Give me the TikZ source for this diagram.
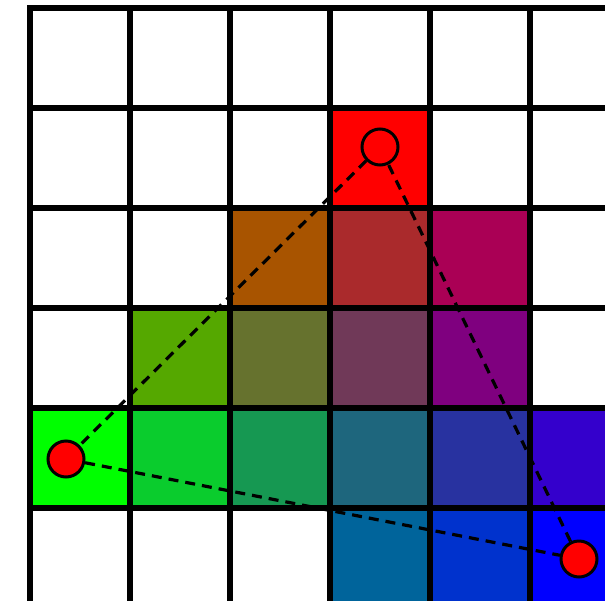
\documentclass[tikz,border=0pt]{standalone}
\usetikzlibrary{positioning}
\begin{document}
\begin{tikzpicture}[
  x=1pt, y=-1pt,
  gridline/.style={line width=5.5pt, draw=black, line cap=rect},
  edge/.style={draw=black, line width=3.2pt, dash pattern=on 10pt off 7pt},
  vertex/.style={circle, draw=black, line width=3pt, fill=red,
                 minimum size=36pt, inner sep=0pt},
]
\useasboundingbox (0,0) rectangle (605,600);
\clip (0,0) rectangle (605,600);

% coloured cells: column/row/red/green/blue
\foreach \c/\r/\rr/\gg/\bb in {
    3/1/255/0/0,
    2/2/168/84/0, 3/2/170/42/44, 4/2/170/0/85,
    1/3/85/168/0, 2/3/102/114/46, 3/3/112/57/88, 4/3/127/0/127,
    0/4/0/255/0, 1/4/10/204/45, 2/4/22/152/82, 3/4/30/102/125, 4/4/40/50/160, 5/4/52/0/204,
    3/5/0/100/155, 4/5/0/50/205, 5/5/0/0/255}
  \fill[fill={rgb,255:red,\rr;green,\gg;blue,\bb}] ({30+100*\c},{8+100*\r}) rectangle ++(100,100);

\foreach \i in {0,...,6} {
  \draw[gridline] ({30+100*\i},8) -- ({30+100*\i},700);
  \draw[gridline] (30,{8+100*\i}) -- (700,{8+100*\i});
}

\node[vertex] (red)   at (380,147) {};
\node[vertex] (green) at (66,459)  {};
\node[vertex] (blue)  at (579,559) {};

\draw[edge] (red) -- (green);
\draw[edge] (green) -- (blue);
\draw[edge] (blue) -- (red);

\end{tikzpicture}
\end{document}
